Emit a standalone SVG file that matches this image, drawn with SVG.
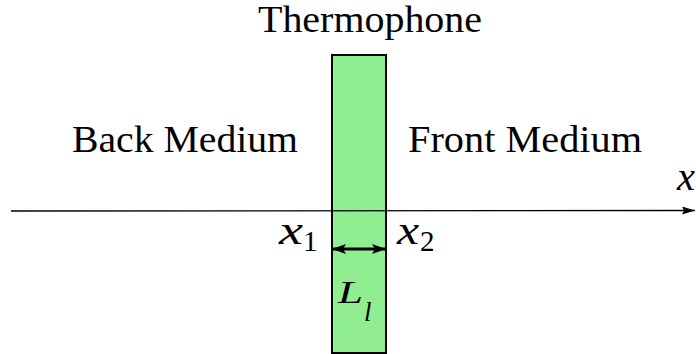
<svg xmlns="http://www.w3.org/2000/svg" width="696" height="354" viewBox="0 0 696 354">
<style>
.t{font-family:"Liberation Serif","DejaVu Serif",serif;fill:#000}
.m{font-family:"Liberation Serif","DejaVu Serif",serif;font-style:italic;fill:#000}
.c{stroke:#000;fill:none}
</style>
<defs>
<marker id="ah" viewBox="0 0 14 10" refX="14" refY="5" markerWidth="14" markerHeight="10" markerUnits="userSpaceOnUse" orient="auto-start-reverse">
<path d="M0,0 L14,5 L0,10 L3,5 Z" fill="#000"/>
</marker>
<marker id="ah2" viewBox="0 0 13 8" refX="13" refY="4" markerWidth="13" markerHeight="8" markerUnits="userSpaceOnUse" orient="auto">
<path d="M0,0 L13,4 L0,8 L2,4 Z" fill="#000"/>
</marker>
</defs>
<g id="thermophone">
<rect x="332" y="55" width="54" height="298" fill="#90ee90" stroke="#000" stroke-width="2"/>
<text class="t" x="258" y="32" font-size="37" textLength="224" lengthAdjust="spacingAndGlyphs">Thermophone</text>
</g>
<g id="back">
<text class="t" x="72" y="152" font-size="38" textLength="226" lengthAdjust="spacingAndGlyphs">Back Medium</text>
</g>
<g id="front">
<text class="t" x="408" y="152" font-size="38" textLength="234" lengthAdjust="spacingAndGlyphs">Front Medium</text>
</g>
<g id="connectors">
<line class="c" x1="11" y1="211" x2="695" y2="210.5" stroke-width="1.3" marker-end="url(#ah2)"/>
<line class="c" x1="332" y1="249" x2="386" y2="249" stroke-width="3" marker-start="url(#ah)" marker-end="url(#ah)"/>
</g>
<g id="labels">
<text class="m" x="677" y="190" font-size="40" textLength="18" lengthAdjust="spacingAndGlyphs">x</text>
<text class="m" x="279" y="244" font-size="42" textLength="24" lengthAdjust="spacingAndGlyphs">x</text>
<text class="t" x="303" y="251" font-size="29">1</text>
<text class="m" x="397" y="244" font-size="42" textLength="22" lengthAdjust="spacingAndGlyphs">x</text>
<text class="t" x="420" y="251" font-size="29">2</text>
<text class="m" x="338" y="303" font-size="31" textLength="25" lengthAdjust="spacingAndGlyphs">L</text>
<text class="m" x="364" y="321" font-size="27">l</text>
</g>
</svg>
